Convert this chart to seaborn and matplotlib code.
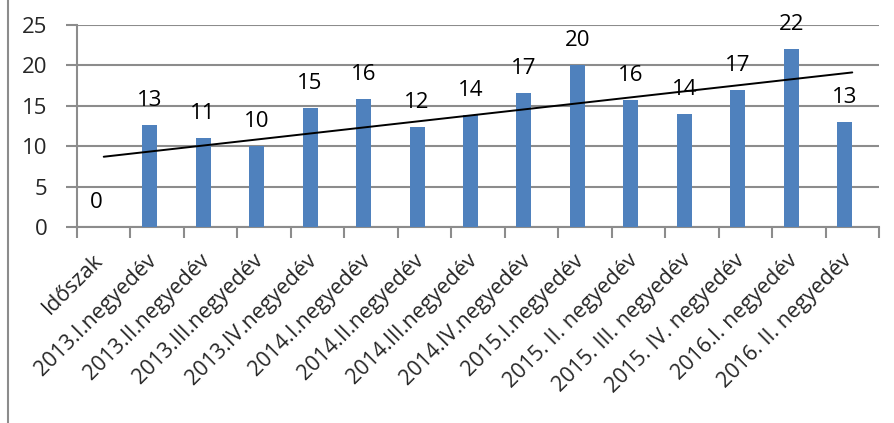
import matplotlib
matplotlib.use("Agg")
import matplotlib.pyplot as plt
import matplotlib.transforms as mtransforms
import seaborn as sns
import numpy as np
import pandas as pd
from matplotlib.lines import Line2D

categories = ["Időszak", "2013.I.negyedév", "2013.II.negyedév", "2013.III.negyedév",
              "2013.IV.negyedév", "2014.I.negyedév", "2014.II.negyedév", "2014.III.negyedév",
              "2014.IV.negyedév", "2015.I.negyedév", "2015. II. negyedév", "2015. III. negyedév",
              "2015. IV. negyedév", "2016.I. negyedév", "2016. II. negyedév"]
values = [0, 12.65, 11.0, 10.05, 14.68, 15.88, 12.32, 13.8, 16.59, 20.0, 15.67, 14.0, 17.0, 22.05, 13.0]
value_labels = ["0", "13", "11", "10", "15", "16", "12", "14", "17", "20", "16", "14", "17", "22", "13"]
y_ticks = [0, 5, 10, 15, 20, 25]

sns.set_theme(style="white")
plt.rcParams['font.family'] = ['Open Sans', 'DejaVu Sans']

W, H = 895, 423
fig = plt.figure(figsize=(W / 100, H / 100), dpi=100)
ax = fig.add_axes([77 / W, (H - 227) / H, (879 - 77) / W, (227 - 25) / H])

df = pd.DataFrame({"cat": categories, "val": values})
bw = 0.28
sns.barplot(data=df, x="cat", y="val", color="#4F81BD", saturation=1, width=bw, ax=ax, zorder=3)
for p in ax.patches:
    p.set_x(p.get_x() - bw / 2)
    p.set_edgecolor("none")

idx = np.arange(len(values))
sns.regplot(x=idx, y=np.array(values), ci=None, scatter=False, truncate=True,
            color="black", line_kws={"lw": 1.4, "zorder": 4}, ax=ax)

for i, (v, lab) in enumerate(zip(values, value_labels)):
    ax.annotate(lab, (i - bw / 2, v), xytext=(0, 13.7), textcoords="offset points",
                ha="center", va="baseline", fontsize=16, color="black", zorder=5)

ax.set_xlim(-0.5, len(values) - 0.5)
ax.set_ylim(0, 25)
ax.set_yticks(y_ticks)
ax.set_yticklabels([str(t) for t in y_ticks], fontsize=16)
ax.set_xticks(idx)
ax.set_xticklabels(categories, rotation=45, ha="right", va="baseline",
                   rotation_mode="anchor", fontsize=15.5)
shift = mtransforms.ScaledTranslation(12 / 100, 0, fig.dpi_scale_trans)
for lab in ax.get_xticklabels():
    lab.set_transform(lab.get_transform() + shift)
ax.set_xlabel("")
ax.set_ylabel("")

grid_c = "#8c8c8c"
ax.yaxis.grid(True, color=grid_c, lw=1.5, zorder=0)
ax.xaxis.grid(False)
for s in ["top", "right"]:
    ax.spines[s].set_visible(False)
for s in ["left", "bottom"]:
    ax.spines[s].set_color(grid_c)
    ax.spines[s].set_linewidth(1.5)

ax.tick_params(axis="y", which="major", length=8, width=1.5, color=grid_c, pad=13.5, left=True)
ax.tick_params(axis="x", which="major", length=0, pad=24.5)
# category boundary tick marks
ax.set_xticks(np.arange(-0.5, len(values), 1.0), minor=True)
ax.tick_params(axis="x", which="minor", length=8, width=1.5, color=grid_c, bottom=True)

fig.add_artist(Line2D([8 / W, 8 / W], [0, 1], transform=fig.transFigure, color="#8c8c8c", lw=1.5))

fig.savefig("out.png", dpi=100, facecolor="white")
